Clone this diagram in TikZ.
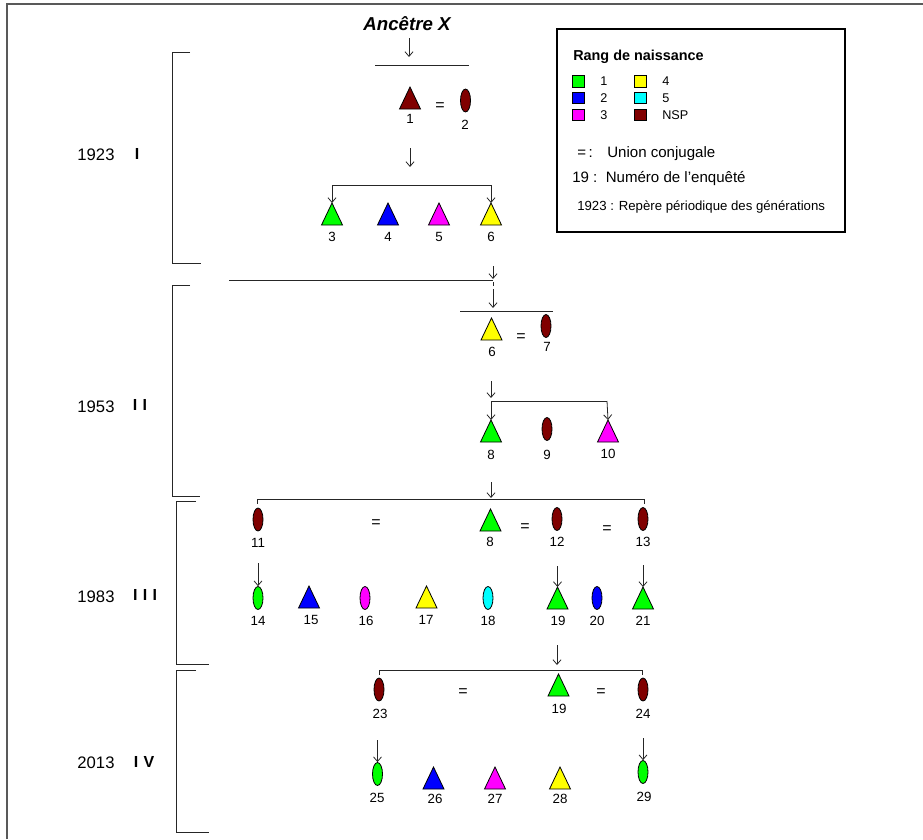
\documentclass[tikz,border=0pt]{standalone}
\usepackage{fontspec}
\setmainfont{Liberation Sans}
\usetikzlibrary{arrows.meta,shapes.geometric}
\definecolor{cNSP}{HTML}{800000}
\definecolor{cA}{HTML}{00FF00}
\definecolor{cB}{HTML}{0000FF}
\definecolor{cC}{HTML}{FF00FF}
\definecolor{cD}{HTML}{FFFF00}
\definecolor{cE}{HTML}{00FFFF}
\tikzset{
  ln/.style={draw=black!85, line width=0.6pt},
  arr/.style={ln, -{Straight Barb[length=3.5pt,width=6pt]}},
  shp/.style={draw=black, line width=0.6pt},
  lbl/.style={font=\fontsize{10}{12}\selectfont, inner sep=0},
  eqs/.style={font=\fontsize{12}{14}\selectfont, inner sep=0},
  yearlbl/.style={font=\fontsize{12.5}{15}\selectfont, inner sep=0},
  genlbl/.style={font=\bfseries\fontsize{12}{14}\selectfont, inner sep=0},
  ell/.style={ellipse, shp, fill=#1, minimum width=7.5pt, minimum height=17.25pt, inner sep=0},
  pers/.style={rectangle, minimum width=15.75pt, minimum height=16.5pt, inner sep=0, outer sep=0},
  sq/.style={rectangle, shp, fill=#1, minimum size=8.5pt, inner sep=0},
  legtxt/.style={font=\fontsize{9.5}{11}\selectfont, inner sep=0, anchor=west},
}
\newcommand\tri[4]{\node[pers] (#1) at (#2,#3) {};
  \draw[shp,fill=#4] (#1.south west) -- (#1.south east) -- (#1.north) -- cycle;}
\begin{document}
\begin{tikzpicture}[x=0.75pt,y=-0.75pt]
\useasboundingbox (0,0) rectangle (923,839);
% frame
\draw[draw=black!65, line width=1.1pt] (7,839) -- (7,4) -- (923,4);

% generation brackets and labels
\draw[ln] (190,52) -- (172,52) -- (172,263) -- (201,263);
\draw[ln] (190,285) -- (172,285) -- (172,496) -- (200,496);
\draw[ln] (196,501) -- (176,501) -- (176,664) -- (209,664);
\draw[ln] (196,670) -- (176,670) -- (176,832) -- (209,832);
\node[yearlbl] (y1) at (96,155) {1923};
\node[genlbl] (g1) at (137,154) {I};
\node[yearlbl] (y2) at (96,407) {1953};
\node[genlbl] (g2) at (140,405) {I\,\,I};
\node[yearlbl] (y3) at (96,597) {1983};
\node[genlbl] (g3) at (145,595) {I\,\,I\,\,I};
\node[yearlbl] (y4) at (96,763) {2013};
\node[genlbl] (g4) at (144,762) {I\,\,V};

% legend
\draw[draw=black, line width=0.8pt] (557,29) rectangle (845,232);
\node[font=\bfseries\fontsize{10.8}{13}\selectfont, inner sep=0, anchor=base west] (lt) at (573,60) {Rang de naissance};
\node[sq=cA] (s1) at (578.5,81.5) {};
\node[sq=cB] (s2) at (578.5,98) {};
\node[sq=cC] (s3) at (578.5,115) {};
\node[sq=cD] (s4) at (640.5,81.5) {};
\node[sq=cE] (s5) at (640.5,98) {};
\node[sq=cNSP] (s6) at (640.5,115) {};
\node[legtxt] (t1) at (600,81.5) {1};
\node[legtxt] (t2) at (600,98) {2};
\node[legtxt] (t3) at (600,115) {3};
\node[legtxt] (t4) at (662,81.5) {4};
\node[legtxt] (t5) at (662,98) {5};
\node[legtxt] (t6) at (662,115) {NSP};
\node[font=\fontsize{11.3}{13}\selectfont, inner sep=0, anchor=base west] (u1) at (577,157) {=\,:};
\node[font=\fontsize{11.3}{13}\selectfont, inner sep=0, anchor=base west] (u2) at (607,157) {Union conjugale};
\node[font=\fontsize{11.3}{13}\selectfont, inner sep=0, anchor=base west] (u3) at (572,182.4) {19 :\ \ Numéro de l'enquêté};
\node[font=\fontsize{9.9}{12}\selectfont, inner sep=0, anchor=base west] (u4) at (577,210.7) {1923 : Repère périodique des générations};

% ---- generation I
\node[font=\bfseries\itshape\fontsize{14}{16}\selectfont, inner sep=0, anchor=base] (anc) at (407,30) {Ancêtre X};
\coordinate (a1s) at (409,38);
\coordinate (a1e) at (409,57);
\draw[arr] (a1s) -- (a1e);
\coordinate (m1l) at (375,65);
\coordinate (m1r) at (469,65);
\draw[ln] (m1l) -- (m1r);
\tri{p1}{410}{98}{cNSP}
\node[ell=cNSP] (e2) at (465.5,100.5) {};
\node[eqs] (q1) at (440,107) {=};
\node[lbl] (l1) at (410,119) {1};
\node[lbl] (l2) at (465,125) {2};
\coordinate (a2s) at (410,148);
\coordinate (a2e) at (410,167);
\draw[arr] (a2s) -- (a2e);
\tri{p3}{332}{214}{cA}
\tri{p4}{388}{214}{cB}
\tri{p5}{439}{214}{cC}
\tri{p6}{491}{214}{cD}
\node[lbl] (l3) at (332,237) {3};
\node[lbl] (l4) at (388,237) {4};
\node[lbl] (l5) at (439,237) {5};
\node[lbl] (l6) at (491,237) {6};
\coordinate (b1l) at (332,185);
\coordinate (b1r) at (491,185);
\draw[ln] (b1l) -- (b1r);
\draw[arr] (b1l) -- (p3.north);
\draw[arr] (b1r) -- (p6.north);

% ---- generation II
\coordinate (h2l) at (229,280);
\coordinate (h2r) at (493,280);
\draw[ln] (h2l) -- (h2r);
\coordinate (a3s) at (493,266);
\coordinate (a3e) at (493,279);
\draw[arr] (a3s) -- (a3e);
\coordinate (st1) at (493,282);
\coordinate (st2) at (493,286);
\draw[ln, line width=0.4pt] (st1) -- (st2);
\coordinate (a4s) at (493,289);
\coordinate (a4e) at (493,308);
\draw[arr] (a4s) -- (a4e);
\coordinate (m2l) at (460,311);
\coordinate (m2r) at (553,311);
\draw[ln] (m2l) -- (m2r);
\tri{p6b}{491.5}{329}{cD}
\node[ell=cNSP] (e7) at (546,326) {};
\node[eqs] (q2) at (521,338) {=};
\node[lbl] (l6b) at (492,352) {6};
\node[lbl] (l7) at (547,347) {7};
\coordinate (a5s) at (491,381);
\coordinate (a5e) at (491,398);
\draw[arr] (a5s) -- (a5e);
\coordinate (b2l) at (491,401);
\coordinate (b2r) at (607,401);
\draw[ln] (b2l) -- (b2r);
\tri{p8}{491}{431}{cA}
\node[ell=cNSP] (e9) at (547,429) {};
\tri{p10}{608}{431}{cC}
\draw[arr] (b2l) -- (p8.north);
\draw[arr] (b2r) -- (p10.north);
\node[lbl] (l8) at (491,455) {8};
\node[lbl] (l9) at (547,455) {9};
\node[lbl] (l10) at (608,454) {10};

% ---- generation III
\coordinate (a6s) at (491,482);
\coordinate (a6e) at (491,498);
\draw[arr] (a6s) -- (a6e);
\coordinate (h3l) at (257,499);
\coordinate (h3r) at (644,499);
\draw[ln] (h3l) -- (h3r);
\coordinate (k1) at (257,504);
\coordinate (k2) at (644,504);
\draw[ln, line width=0.4pt] (h3l) -- (k1);
\draw[ln, line width=0.4pt] (h3r) -- (k2);
\node[ell=cNSP] (e11) at (258,519.5) {};
\node[eqs] (q3) at (376,524) {=};
\tri{p8b}{490.5}{520}{cA}
\node[eqs] (q4) at (525,528) {=};
\node[ell=cNSP] (e12) at (557,519) {};
\node[eqs] (q5) at (607,530) {=};
\node[ell=cNSP] (e13) at (643,519) {};
\node[lbl] (l11) at (258,543) {11};
\node[lbl] (l8b) at (490,542) {8};
\node[lbl] (l12) at (557,542) {12};
\node[lbl] (l13) at (643,542) {13};
\node[ell=cA] (e14) at (258,598) {};
\tri{p15}{309}{597}{cB}
\node[ell=cC] (e16) at (365,598) {};
\tri{p17}{426.5}{597}{cD}
\node[ell=cE] (e18) at (488,598) {};
\tri{p19}{557.5}{598}{cA}
\node[ell=cB] (e20) at (597,598) {};
\tri{p21}{643}{598}{cA}
\node[lbl] (l14) at (258,621) {14};
\node[lbl] (l15) at (311,620) {15};
\node[lbl] (l16) at (366,621) {16};
\node[lbl] (l17) at (426,620) {17};
\node[lbl] (l18) at (488,621) {18};
\node[lbl] (l19) at (558,621) {19};
\node[lbl] (l20) at (597,621) {20};
\node[lbl] (l21) at (643,621) {21};
\coordinate (a7s) at (258,563);
\coordinate (a8s) at (557.5,566);
\coordinate (a9s) at (643,565);
\draw[arr] (a7s) -- (e14.north);
\draw[arr] (a8s) -- (p19.north);
\draw[arr] (a9s) -- (p21.north);

% ---- generation IV
\coordinate (a10s) at (557,645);
\coordinate (a10e) at (557,665);
\draw[arr] (a10s) -- (a10e);
\coordinate (h4l) at (379,670);
\coordinate (h4r) at (642,670);
\draw[ln] (h4l) -- (h4r);
\coordinate (k3) at (379,675);
\coordinate (k4) at (642,675);
\draw[ln, line width=0.4pt] (h4l) -- (k3);
\draw[ln, line width=0.4pt] (h4r) -- (k4);
\node[ell=cNSP] (e23) at (379,689.5) {};
\node[eqs] (q6) at (463,693) {=};
\tri{p19b}{558.5}{685}{cA}
\node[eqs] (q7) at (601,693) {=};
\node[ell=cNSP] (e24) at (643,689.5) {};
\node[lbl] (l23) at (380,714) {23};
\node[lbl] (l19b) at (559,709) {19};
\node[lbl] (l24) at (643,714) {24};
\node[ell=cA] (e25) at (377.5,774) {};
\tri{p26}{433.5}{778}{cB}
\tri{p27}{495}{778}{cC}
\tri{p28}{560}{778}{cD}
\node[ell=cA] (e29) at (643,772) {};
\node[lbl] (l25) at (377,798) {25};
\node[lbl] (l26) at (435,799) {26};
\node[lbl] (l27) at (495,799) {27};
\node[lbl] (l28) at (560,799) {28};
\node[lbl] (l29) at (644,797) {29};
\coordinate (a11s) at (377.5,740);
\coordinate (a12s) at (643,738);
\draw[arr] (a11s) -- (e25.north);
\draw[arr] (a12s) -- (e29.north);
\end{tikzpicture}
\end{document}
